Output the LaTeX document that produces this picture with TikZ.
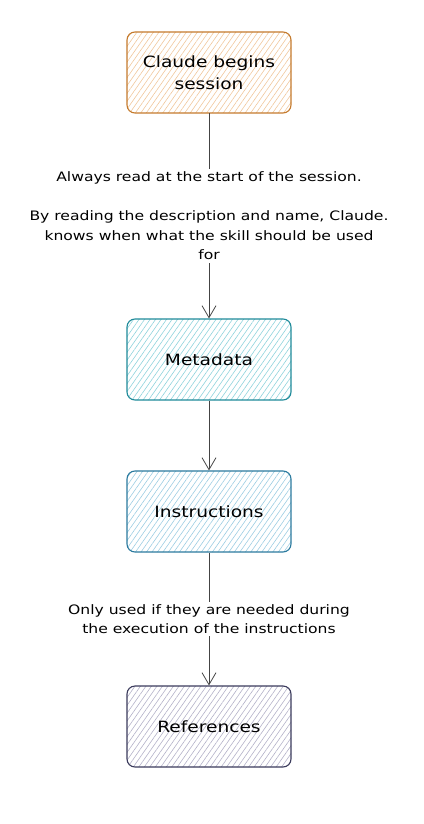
\documentclass[tikz,border=0pt]{standalone}
\usepackage{fontspec}
\setmainfont[FakeStretch=1.2]{DejaVu Sans}
\usetikzlibrary{arrows.meta,patterns.meta}
\definecolor{clStroke}{HTML}{C47A2C}
\definecolor{clFill}{HTML}{F0C79C}
\definecolor{mdStroke}{HTML}{1E8A99}
\definecolor{mdFill}{HTML}{8ED3DC}
\definecolor{inStroke}{HTML}{2B7A9E}
\definecolor{inFill}{HTML}{9CCDE2}
\definecolor{rfStroke}{HTML}{3B3B5C}
\definecolor{rfFill}{HTML}{B3B1C8}
\definecolor{arrowGray}{HTML}{444444}
\tikzset{
  stepbox/.style={rounded corners=8pt, line width=1.1pt, minimum width=164pt,
    minimum height=81pt, inner sep=2pt, align=center, text=black,
    font=\fontsize{15.5}{22.5}\selectfont},
  hatchfill/.style={pattern={Lines[angle=55,distance=4.5pt,line width=0.6pt]}, pattern color=#1},
  flow/.style={draw=arrowGray, line width=0.8pt, -{Straight Barb[length=12pt,width=14pt,line width=0.8pt]}},
  flowlabel/.style={fill=white, inner sep=3pt, align=center, text=black,
    font=\fontsize{13}{19.5}\selectfont}
}
\begin{document}
\begin{tikzpicture}[x=1pt,y=-1pt]
\useasboundingbox (0,0) rectangle (423,824);
\node[stepbox, draw=clStroke, hatchfill=clFill] (claude) at (209,72.5) {Claude begins\\session};
\node[stepbox, draw=mdStroke, hatchfill=mdFill] (meta) at (209,359.5) {Metadata};
\node[stepbox, draw=inStroke, hatchfill=inFill] (instr) at (209,511.5) {Instructions};
\node[stepbox, draw=rfStroke, hatchfill=rfFill] (refs) at (209,726.5) {References};
\draw[flow] (claude) -- node[flowlabel] (lab1) {Always read at the start of the session.\\[19.5pt]By reading the description and name, Claude.\\knows when what the skill should be used\\for} (meta);
\draw[flow] (meta) -- (instr);
\draw[flow] (instr) -- node[flowlabel, font=\fontsize{13}{18.5}\selectfont] (lab2) {Only used if they are needed during\\the execution of the instructions} (refs);
\end{tikzpicture}
\end{document}
